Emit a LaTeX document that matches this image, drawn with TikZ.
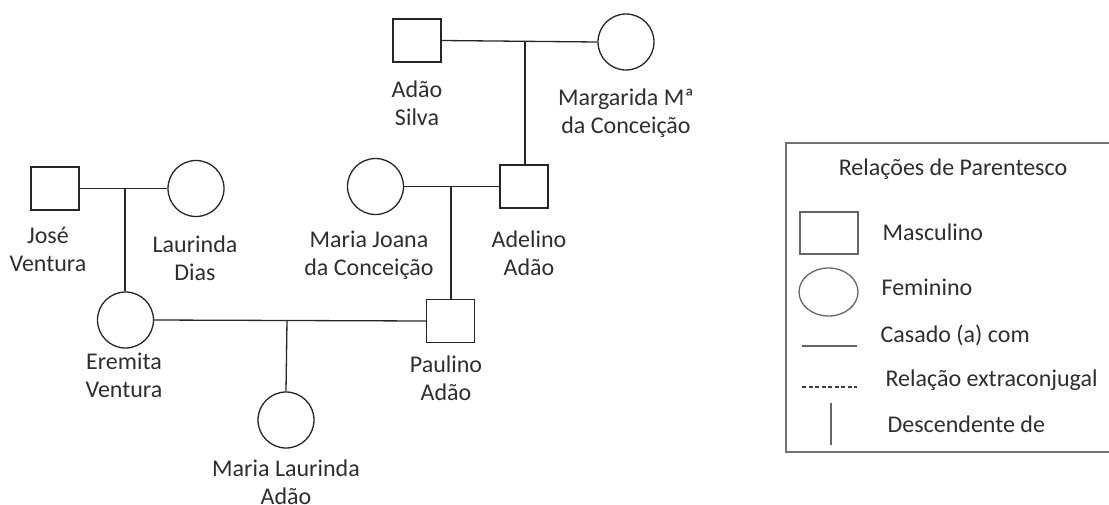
\documentclass[tikz,border=0pt]{standalone}
\usepackage{fontspec}
\usetikzlibrary{shapes.geometric}
\setmainfont{Carlito}
\newcommand{\lblfont}{\fontsize{24}{28}\selectfont}
\begin{document}
\begin{tikzpicture}[x=1pt,y=-1pt,
  line width=1.2pt,
  kin/.style={draw=black!85, line width=1.3pt},
  male/.style={kin, rectangle, minimum width=48pt, minimum height=43pt, inner sep=0pt},
  female/.style={kin, circle, minimum size=56pt, inner sep=0pt},
  lbl/.style={anchor=north, inner sep=0pt, align=center, font=\lblfont, text=black!82, yshift=19.6pt},
  legtext/.style={anchor=base west, inner sep=0pt, font=\lblfont, text=black!82},
  tie/.style={draw=black!85, line width=1.3pt}
]
\useasboundingbox (0,0) rectangle (1109,504);

% --- people ---
\node[male]   (adao)      at (417,40.5)  {};
\node[female] (margarida) at (626,42)    {};
\node[male]   (adelino)   at (524,186.5) {};
\node[female] (mjoana)    at (375.5,186.5) {};
\node[male]   (paulino)   at (450.5,321) {};
\node[male]   (jose)      at (55,188.5)  {};
\node[female] (laurinda)  at (196,188.5) {};
\node[female] (eremita)   at (125.5,320) {};
\node[female] (mlaurinda) at (286,420)   {};

% --- names ---
\node[lbl] (adaoL)      at (417,97)  {\strut Adão\\Silva};
\node[lbl] (margaridaL) at (626,105) {\strut Margarida Mª\\da Conceição};
\node[lbl] (adelinoL)   at (529,247) {\strut Adelino\\Adão};
\node[lbl] (mjoanaL)    at (369,247) {\strut Maria Joana\\da Conceição};
\node[lbl] (paulinoL)   at (446,372) {\strut Paulino\\Adão};
\node[lbl] (joseL)      at (48,243)  {\strut José\\Ventura};
\node[lbl] (laurindaL)  at (195,252) {\strut Laurinda\\Dias};
\node[lbl] (eremitaL)   at (124,369) {\strut Eremita\\Ventura};
\node[lbl] (mlaurindaL) at (286,476) {\strut Maria Laurinda\\Adão};

% --- marriages and descent ---
\coordinate (j1) at (525,42);
\coordinate (j2) at (451,187);
\coordinate (j3) at (125,188.5);
\coordinate (j4) at (287,320);

\draw[tie] (adao.east) -- (margarida.west);
\draw[tie] (j1) -- (j1 |- adelino.north);
\draw[tie] (mjoana.east) -- (adelino.west);
\draw[tie] (j2) -- (j2 |- paulino.north);
\draw[tie] (jose.east) -- (laurinda.west);
\draw[tie] (j3) -- (j3 |- eremita.north);
\draw[tie] (eremita.east) -- (paulino.west);
\draw[tie] (j4) -- (mlaurinda.north);

% --- legend ---
\draw[draw=black!55, line width=1.5pt] (786,143) rectangle (1120,452);
\node[anchor=base, inner sep=0pt, font=\lblfont, text=black!82] (legtitle) at (953,175) {Relações de Parentesco};
\node[kin, rectangle, minimum width=58pt, minimum height=42pt, inner sep=0pt, draw=black!60] (legmale) at (829,233) {};
\node[legtext] (legmaleT) at (882,240) {Masculino};
\node[kin, ellipse, minimum width=59pt, minimum height=48pt, inner sep=0pt, draw=black!60] (legfemale) at (828.5,292) {};
\node[legtext] (legfemaleT) at (881,295) {Feminino};
\coordinate (lm1) at (802,346); \coordinate (lm2) at (857,346);
\draw[draw=black!60, line width=1.2pt] (lm1) -- (lm2);
\node[legtext] (legmarT) at (880,342) {Casado (a) com};
\coordinate (le1) at (802,387); \coordinate (le2) at (857,387);
\draw[draw=black!75, line width=1.3pt, dash pattern=on 4pt off 2.5pt] (le1) -- (le2);
\node[legtext] (legextT) at (885,386) {Relação extraconjugal};
\coordinate (ld1) at (831,403); \coordinate (ld2) at (831,445);
\draw[draw=black!60, line width=1.2pt] (ld1) -- (ld2);
\node[legtext] (legdescT) at (887,432) {Descendente de};
\end{tikzpicture}
\end{document}
